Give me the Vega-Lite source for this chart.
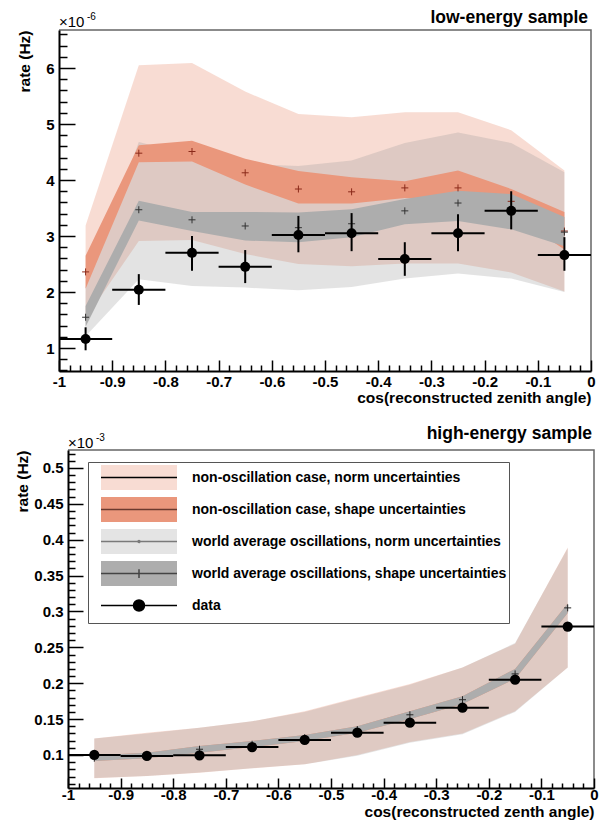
{
  "$schema": "https://vega.github.io/schema/vega-lite/v6.json",
  "background": "white",
  "padding": {"left": 14, "top": 7, "right": 5, "bottom": 5},
  "spacing": 16,
  "resolve": {"scale": {"fill": "independent", "stroke": "independent", "shape": "independent"}},
  "config": {
    "view": {"stroke": null},
    "font": "Liberation Sans",
    "axis": {"labelFont": "Liberation Sans", "labelFontWeight": "bold", "labelFontSize": 15, "labelColor": "black", "titleFont": "Liberation Sans", "titleFontWeight": "bold", "titleFontSize": 15.5, "titleColor": "black", "domainColor": "black", "domainWidth": 2, "ticks": true, "tickColor": "black", "tickWidth": 1.5, "tickOpacity": 1, "grid": false, "labelOverlap": false, "labelFlush": false, "zindex": 1},
    "legend": {"labelFont": "Liberation Sans", "labelFontWeight": "bold", "labelFontSize": 14, "labelColor": "black"},
    "title": {"font": "Liberation Sans", "fontWeight": "bold", "fontSize": 17.5, "color": "black", "anchor": "end", "frame": "group"}
  },
  "vconcat": [
    {
      "width": 532,
      "height": 341,
      "view": {"stroke": "#666666", "strokeWidth": 1.5, "strokeDash": [873, 3000]},
      "title": {"text": "low-energy sample", "anchor": "end", "frame": "group", "offset": -14, "dx": -3},
      "resolve": {"axis": {"x": "independent", "y": "independent"}},
      "data": {"values": [
        {"x":-0.95,"xl":-1,"xh":-0.9,"d":1.16,"dl":0.96,"dh":1.37,"nc":2.36,"os":1.55,"rnl":1.53,"rnh":3.19,"rsl":2.06,"rsh":2.65,"gnl":1.21,"gnh":2.09,"gsl":1.38,"gsh":1.75},
        {"x":-0.85,"xl":-0.9,"xh":-0.8,"d":2.04,"dl":1.77,"dh":2.32,"nc":4.48,"os":3.47,"rnl":2.91,"rnh":6.05,"rsl":4.32,"rsh":4.62,"gnl":2.23,"gnh":4.68,"gsl":3.28,"gsh":3.63},
        {"x":-0.75,"xl":-0.8,"xh":-0.7,"d":2.70,"dl":2.38,"dh":3.00,"nc":4.51,"os":3.29,"rnl":2.93,"rnh":6.09,"rsl":4.33,"rsh":4.70,"gnl":2.11,"gnh":4.44,"gsl":3.09,"gsh":3.43},
        {"x":-0.65,"xl":-0.7,"xh":-0.6,"d":2.45,"dl":2.16,"dh":2.75,"nc":4.13,"os":3.18,"rnl":2.68,"rnh":5.58,"rsl":3.92,"rsh":4.38,"gnl":2.08,"gnh":4.29,"gsl":2.92,"gsh":3.43},
        {"x":-0.55,"xl":-0.6,"xh":-0.5,"d":3.02,"dl":2.71,"dh":3.36,"nc":3.84,"os":3.15,"rnl":2.50,"rnh":5.18,"rsl":3.58,"rsh":4.16,"gnl":2.03,"gnh":4.25,"gsl":2.89,"gsh":3.42},
        {"x":-0.45,"xl":-0.5,"xh":-0.4,"d":3.05,"dl":2.73,"dh":3.41,"nc":3.79,"os":3.22,"rnl":2.46,"rnh":5.12,"rsl":3.58,"rsh":4.05,"gnl":2.09,"gnh":4.35,"gsl":2.98,"gsh":3.48},
        {"x":-0.35,"xl":-0.4,"xh":-0.3,"d":2.59,"dl":2.29,"dh":2.89,"nc":3.86,"os":3.45,"rnl":2.51,"rnh":5.21,"rsl":3.68,"rsh":3.98,"gnl":2.24,"gnh":4.66,"gsl":3.21,"gsh":3.66},
        {"x":-0.25,"xl":-0.3,"xh":-0.2,"d":3.05,"dl":2.73,"dh":3.39,"nc":3.86,"os":3.59,"rnl":2.51,"rnh":5.21,"rsl":3.62,"rsh":4.17,"gnl":2.33,"gnh":4.85,"gsl":3.27,"gsh":3.81},
        {"x":-0.15,"xl":-0.2,"xh":-0.1,"d":3.45,"dl":3.12,"dh":3.80,"nc":3.62,"os":3.45,"rnl":2.35,"rnh":4.89,"rsl":3.40,"rsh":3.84,"gnl":2.24,"gnh":4.66,"gsl":3.12,"gsh":3.75},
        {"x":-0.05,"xl":-0.1,"xh":0,"d":2.66,"dl":2.38,"dh":2.98,"nc":3.09,"os":3.07,"rnl":2.01,"rnh":4.17,"rsl":2.76,"rsh":3.43,"gnl":2.00,"gnh":4.14,"gsl":2.82,"gsh":3.34}
      ]},
      "layer": [
        {
          "mark": {"type": "area", "fill": "rgba(233,140,110,0.30)", "opacity": 1},
          "encoding": {
            "x": {"field": "x", "type": "quantitative", "scale": {"domain": [-1, 0], "nice": false, "zero": false},
              "axis": {"orient": "bottom", "values": [-1,-0.98,-0.96,-0.94,-0.92,-0.9,-0.88,-0.86,-0.84,-0.82,-0.8,-0.78,-0.76,-0.74,-0.72,-0.7,-0.68,-0.66,-0.64,-0.62,-0.6,-0.58,-0.56,-0.54,-0.52,-0.5,-0.48,-0.46,-0.44,-0.42,-0.4,-0.38,-0.36,-0.34,-0.32,-0.3,-0.28,-0.26,-0.24,-0.22,-0.2,-0.18,-0.16,-0.14,-0.12,-0.1,-0.08,-0.06,-0.04,-0.02,0],
                "labelExpr": "abs(datum.value*10 - round(datum.value*10)) < 0.001 ? '' + round(datum.value*10)/10 : ''",
                "tickSize": {"expr": "abs(datum.value*10 - round(datum.value*10)) < 0.001 ? -11 : -6"},
                "labelPadding": 14, "labelBaseline": "top",
                "title": "cos(reconstructed zenith angle)", "titleAnchor": "end", "titleAlign": "right", "titleBaseline": "alphabetic", "titleY": 31}},
            "y": {"field": "rnl", "type": "quantitative", "scale": {"domain": [0.59, 6.68], "nice": false, "zero": false},
              "axis": {"orient": "left", "values": [0.6,0.8,1,1.2,1.4,1.6,1.8,2,2.2,2.4,2.6,2.8,3,3.2,3.4,3.6,3.8,4,4.2,4.4,4.6,4.8,5,5.2,5.4,5.6,5.8,6,6.2,6.4,6.6],
                "labelExpr": "abs(datum.value - round(datum.value)) < 0.001 ? '' + round(datum.value) : ''",
                "tickSize": {"expr": "abs(datum.value - round(datum.value)) < 0.001 ? -16 : -8"},
                "labelPadding": 21,
                "title": "rate (Hz)", "titleAnchor": "end", "titleAngle": 270, "titleAlign": "right", "titleBaseline": "bottom", "titleX": -27, "titleY": 0}},
            "y2": {"field": "rnh"}
          }
        },
        {
          "mark": {"type": "area", "fill": "rgba(150,150,150,0.27)", "opacity": 1},
          "encoding": {
            "x": {"field": "x", "type": "quantitative", "axis": null},
            "y": {"field": "gnl", "type": "quantitative", "axis": null},
            "y2": {"field": "gnh"}
          }
        },
        {
          "mark": {"type": "area", "fill": "#ea977c", "opacity": 1},
          "encoding": {
            "x": {"field": "x", "type": "quantitative", "axis": null},
            "y": {"field": "rsl", "type": "quantitative", "axis": null},
            "y2": {"field": "rsh"}
          }
        },
        {
          "mark": {"type": "area", "fill": "#adadad", "opacity": 1},
          "encoding": {
            "x": {"field": "x", "type": "quantitative", "axis": null},
            "y": {"field": "gsl", "type": "quantitative", "axis": null},
            "y2": {"field": "gsh"}
          }
        },
        {
          "mark": {"type": "point", "shape": "M-1,0H1M0,-1V1", "filled": false, "size": 49, "stroke": "#8b2a1a", "strokeWidth": 1, "opacity": 1},
          "encoding": {
            "x": {"field": "x", "type": "quantitative", "axis": null},
            "y": {"field": "nc", "type": "quantitative", "axis": null}
          }
        },
        {
          "mark": {"type": "point", "shape": "M-1,0H1M0,-1V1", "filled": false, "size": 49, "stroke": "#333333", "strokeWidth": 1, "opacity": 1},
          "encoding": {
            "x": {"field": "x", "type": "quantitative", "axis": null},
            "y": {"field": "os", "type": "quantitative", "axis": null}
          }
        },
        {
          "mark": {"type": "rule", "color": "black", "strokeWidth": 2},
          "encoding": {
            "x": {"field": "x", "type": "quantitative", "axis": null},
            "y": {"field": "dl", "type": "quantitative", "axis": null},
            "y2": {"field": "dh"}
          }
        },
        {
          "mark": {"type": "rule", "color": "black", "strokeWidth": 2},
          "encoding": {
            "x": {"field": "xl", "type": "quantitative", "axis": null},
            "x2": {"field": "xh"},
            "y": {"field": "d", "type": "quantitative", "axis": null}
          }
        },
        {
          "mark": {"type": "point", "shape": "circle", "filled": true, "color": "black", "size": 100, "opacity": 1},
          "encoding": {
            "x": {"field": "x", "type": "quantitative", "axis": null},
            "y": {"field": "d", "type": "quantitative", "axis": null}
          }
        },
        {
          "data": {"values": [{"m": "×10", "e": "-6"}]},
          "mark": {"type": "text", "align": "left", "baseline": "alphabetic", "font": "Liberation Sans", "fontSize": 15, "dy": -3, "color": "black"},
          "encoding": {
            "x": {"datum": -1, "type": "quantitative", "axis": null},
            "y": {"datum": 6.68, "type": "quantitative", "axis": null},
            "text": {"field": "m"}
          }
        },
        {
          "data": {"values": [{"m": "×10", "e": "-6"}]},
          "mark": {"type": "text", "align": "left", "baseline": "alphabetic", "font": "Liberation Sans", "fontSize": 10, "dx": 28, "dy": -10, "color": "black"},
          "encoding": {
            "x": {"datum": -1, "type": "quantitative", "axis": null},
            "y": {"datum": 6.68, "type": "quantitative", "axis": null},
            "text": {"field": "e"}
          }
        }
      ]
    },
    {
      "width": 535,
      "height": 338,
      "view": {"stroke": "#666666", "strokeWidth": 1.5, "strokeDash": [864, 3000], "strokeDashOffset": -9},
      "title": {"text": "high-energy sample", "anchor": "end", "frame": "group", "offset": -9, "dx": -2},
      "resolve": {"axis": {"x": "independent", "y": "independent"}},
      "data": {"values": [
        {"x":-0.95,"xl":-1,"xh":-0.9,"d":0.100,"dl":0.098,"dh":0.102,"nc":0.0955,"os":0.0955,"rnl":0.0675,"rnh":0.123,"gnl":0.068,"gnh":0.123,"gsl":0.0916,"gsh":0.0995},
        {"x":-0.85,"xl":-0.9,"xh":-0.8,"d":0.0986,"dl":0.0966,"dh":0.1006,"nc":0.100,"os":0.099,"rnl":0.0707,"rnh":0.131,"gnl":0.0707,"gnh":0.130,"gsl":0.0953,"gsh":0.103},
        {"x":-0.75,"xl":-0.8,"xh":-0.7,"d":0.0995,"dl":0.0975,"dh":0.1015,"nc":0.107,"os":0.108,"rnl":0.0753,"rnh":0.138,"gnl":0.0755,"gnh":0.138,"gsl":0.103,"gsh":0.1125},
        {"x":-0.65,"xl":-0.7,"xh":-0.6,"d":0.111,"dl":0.109,"dh":0.113,"nc":0.114,"os":0.115,"rnl":0.0814,"rnh":0.147,"gnl":0.0815,"gnh":0.147,"gsl":0.111,"gsh":0.1195},
        {"x":-0.55,"xl":-0.6,"xh":-0.5,"d":0.121,"dl":0.119,"dh":0.123,"nc":0.124,"os":0.124,"rnl":0.087,"rnh":0.161,"gnl":0.087,"gnh":0.160,"gsl":0.1195,"gsh":0.128},
        {"x":-0.45,"xl":-0.5,"xh":-0.4,"d":0.131,"dl":0.129,"dh":0.133,"nc":0.1365,"os":0.1355,"rnl":0.100,"rnh":0.180,"gnl":0.099,"gnh":0.179,"gsl":0.131,"gsh":0.140},
        {"x":-0.35,"xl":-0.4,"xh":-0.3,"d":0.145,"dl":0.143,"dh":0.147,"nc":0.157,"os":0.156,"rnl":0.118,"rnh":0.199,"gnl":0.117,"gnh":0.198,"gsl":0.150,"gsh":0.161},
        {"x":-0.25,"xl":-0.3,"xh":-0.2,"d":0.166,"dl":0.164,"dh":0.168,"nc":0.1775,"os":0.177,"rnl":0.130,"rnh":0.222,"gnl":0.129,"gnh":0.222,"gsl":0.171,"gsh":0.182},
        {"x":-0.15,"xl":-0.2,"xh":-0.1,"d":0.205,"dl":0.2025,"dh":0.2075,"nc":0.212,"os":0.213,"rnl":0.161,"rnh":0.255,"gnl":0.160,"gnh":0.256,"gsl":0.206,"gsh":0.220},
        {"x":-0.05,"xl":-0.1,"xh":0,"d":0.279,"dl":0.276,"dh":0.282,"nc":0.305,"os":0.305,"rnl":0.222,"rnh":0.389,"gnl":0.222,"gnh":0.388,"gsl":0.298,"gsh":0.311}
      ]},
      "layer": [
        {
          "mark": {"type": "area", "opacity": 1},
          "encoding": {
            "x": {"field": "x", "type": "quantitative", "scale": {"domain": [-1, 0], "range": [9, 535], "nice": false, "zero": false},
              "axis": {"orient": "bottom", "values": [-1,-0.98,-0.96,-0.94,-0.92,-0.9,-0.88,-0.86,-0.84,-0.82,-0.8,-0.78,-0.76,-0.74,-0.72,-0.7,-0.68,-0.66,-0.64,-0.62,-0.6,-0.58,-0.56,-0.54,-0.52,-0.5,-0.48,-0.46,-0.44,-0.42,-0.4,-0.38,-0.36,-0.34,-0.32,-0.3,-0.28,-0.26,-0.24,-0.22,-0.2,-0.18,-0.16,-0.14,-0.12,-0.1,-0.08,-0.06,-0.04,-0.02,0],
                "labelExpr": "abs(datum.value*10 - round(datum.value*10)) < 0.001 ? '' + round(datum.value*10)/10 : ''",
                "tickSize": {"expr": "abs(datum.value*10 - round(datum.value*10)) < 0.001 ? -10 : -5"},
                "labelPadding": 9, "labelBaseline": "top",
                "title": "cos(reconstructed zenth angle)", "titleAnchor": "end", "titleAlign": "right", "titleBaseline": "alphabetic", "titleY": 28}},
            "y": {"field": "rnl", "type": "quantitative", "scale": {"domain": [0.054, 0.525], "nice": false, "zero": false},
              "axis": {"orient": "left", "offset": -9, "values": [0.06,0.07,0.08,0.09,0.1,0.11,0.12,0.13,0.14,0.15,0.16,0.17,0.18,0.19,0.2,0.21,0.22,0.23,0.24,0.25,0.26,0.27,0.28,0.29,0.3,0.31,0.32,0.33,0.34,0.35,0.36,0.37,0.38,0.39,0.4,0.41,0.42,0.43,0.44,0.45,0.46,0.47,0.48,0.49,0.5,0.51,0.52],
                "labelExpr": "abs(datum.value*20 - round(datum.value*20)) < 0.001 ? '' + round(datum.value*100)/100 : ''",
                "tickSize": {"expr": "abs(datum.value*20 - round(datum.value*20)) < 0.001 ? -15 : -7"},
                "labelPadding": 20,
                "title": "rate (Hz)", "titleAnchor": "end", "titleAngle": 270, "titleAlign": "right", "titleBaseline": "bottom", "titleX": -38, "titleY": 0}},
            "y2": {"field": "rnh"},
            "fill": {"datum": "rn", "type": "nominal",
              "scale": {"domain": ["rn", "rs", "gn", "gs", "dt"], "range": ["rgba(233,140,110,0.30)", "#ea977c", "rgba(150,150,150,0.26)", "#adadad", "rgba(0,0,0,0)"]},
              "legend": {"orient": "none", "legendX": 29, "legendY": 12, "title": null, "direction": "vertical",
                "symbolType": "M-0.2,-1H5.88V1H-0.2Z", "symbolSize": 625, "symbolStrokeWidth": 1.5, "symbolStrokeColor": "transparent", "symbolOpacity": 1,
                "labelExpr": "''", "padding": 2, "rowPadding": 1, "labelOffset": 75}}
          }
        },
        {
          "mark": {"type": "area", "opacity": 1},
          "encoding": {
            "x": {"field": "x", "type": "quantitative", "axis": null},
            "y": {"field": "gnl", "type": "quantitative", "axis": null},
            "y2": {"field": "gnh"},
            "fill": {"datum": "gn", "type": "nominal"}
          }
        },
        {
          "mark": {"type": "area", "opacity": 1},
          "encoding": {
            "x": {"field": "x", "type": "quantitative", "axis": null},
            "y": {"field": "gsl", "type": "quantitative", "axis": null},
            "y2": {"field": "gsh"},
            "fill": {"datum": "rs", "type": "nominal"}
          }
        },
        {
          "mark": {"type": "area", "opacity": 1},
          "encoding": {
            "x": {"field": "x", "type": "quantitative", "axis": null},
            "y": {"field": "gsl", "type": "quantitative", "axis": null},
            "y2": {"field": "gsh"},
            "fill": {"datum": "gs", "type": "nominal"}
          }
        },
        {
          "mark": {"type": "point", "shape": "M-1,0H1M0,-1V1", "filled": false, "size": 49, "stroke": "#222222", "strokeWidth": 1, "opacity": 1},
          "encoding": {
            "x": {"field": "x", "type": "quantitative", "axis": null},
            "y": {"field": "os", "type": "quantitative", "axis": null}
          }
        },
        {
          "mark": {"type": "rule", "color": "black", "strokeWidth": 2},
          "encoding": {
            "x": {"field": "x", "type": "quantitative", "axis": null},
            "y": {"field": "dl", "type": "quantitative", "axis": null},
            "y2": {"field": "dh"}
          }
        },
        {
          "mark": {"type": "rule", "color": "black", "strokeWidth": 2},
          "encoding": {
            "x": {"field": "xl", "type": "quantitative", "axis": null},
            "x2": {"field": "xh"},
            "y": {"field": "d", "type": "quantitative", "axis": null}
          }
        },
        {
          "mark": {"type": "point", "shape": "circle", "filled": true, "color": "black", "size": 105, "opacity": 1},
          "encoding": {
            "x": {"field": "x", "type": "quantitative", "axis": null},
            "y": {"field": "d", "type": "quantitative", "axis": null}
          }
        },
        {
          "data": {"values": [{"m": "×10", "e": "-3"}]},
          "mark": {"type": "text", "align": "left", "baseline": "alphabetic", "font": "Liberation Sans", "fontSize": 15, "dy": -2, "color": "black"},
          "encoding": {
            "x": {"datum": -1, "type": "quantitative", "axis": null},
            "y": {"datum": 0.525, "type": "quantitative", "axis": null},
            "text": {"field": "m"}
          }
        },
        {
          "data": {"values": [{"m": "×10", "e": "-3"}]},
          "mark": {"type": "text", "align": "left", "baseline": "alphabetic", "font": "Liberation Sans", "fontSize": 10, "dx": 28, "dy": -9, "color": "black"},
          "encoding": {
            "x": {"datum": -1, "type": "quantitative", "axis": null},
            "y": {"datum": 0.525, "type": "quantitative", "axis": null},
            "text": {"field": "e"}
          }
        },
        {
          "data": {"values": [
            {"s": "non-oscillation case, norm uncertainties"},
            {"s": "non-oscillation case, shape uncertainties"},
            {"s": "world average oscillations, norm uncertainties"},
            {"s": "world average oscillations, shape uncertainties"},
            {"s": "data"}
          ]},
          "mark": {"type": "point", "filled": true, "fill": "black", "opacity": 0, "strokeWidth": 1.5},
          "encoding": {
            "x": {"datum": -0.5, "type": "quantitative", "axis": null},
            "y": {"datum": 0.3, "type": "quantitative", "axis": null},
            "stroke": {"field": "s", "type": "nominal",
              "scale": {"domain": ["non-oscillation case, norm uncertainties", "non-oscillation case, shape uncertainties", "world average oscillations, norm uncertainties", "world average oscillations, shape uncertainties", "data"],
                "range": ["black", "#6b3a2e", "#7a7a7a", "#444444", "black"]},
              "legend": {"orient": "none", "legendX": 29, "legendY": 12, "title": null, "direction": "vertical",
                "symbolSize": 625, "symbolStrokeWidth": 1.5, "symbolOpacity": 1,
                "padding": 2, "rowPadding": 1, "labelOffset": 75, "labelLimit": 600, "strokeColor": "#555555"}},
            "shape": {"field": "s", "type": "nominal",
              "scale": {"domain": ["non-oscillation case, norm uncertainties", "non-oscillation case, shape uncertainties", "world average oscillations, norm uncertainties", "world average oscillations, shape uncertainties", "data"],
                "range": [
                  "M-0.2,-1M-0.2,1M-0.2,0H5.88",
                  "M-0.2,-1M-0.2,1M-0.2,0H5.88",
                  "M-0.2,-1M-0.2,1M-0.2,0H5.88M2.92,0A0.08,0.08 0 1 1 2.76,0A0.08,0.08 0 1 1 2.92,0",
                  "M-0.2,-1M-0.2,1M-0.2,0H5.88M2.84,-0.35V0.35",
                  "M-0.2,-1M-0.2,1M-0.2,0H5.88M3.28,0A0.44,0.44 0 1 1 2.4,0A0.44,0.44 0 1 1 3.28,0"
                ]}}
          }
        }
      ]
    }
  ]
}
